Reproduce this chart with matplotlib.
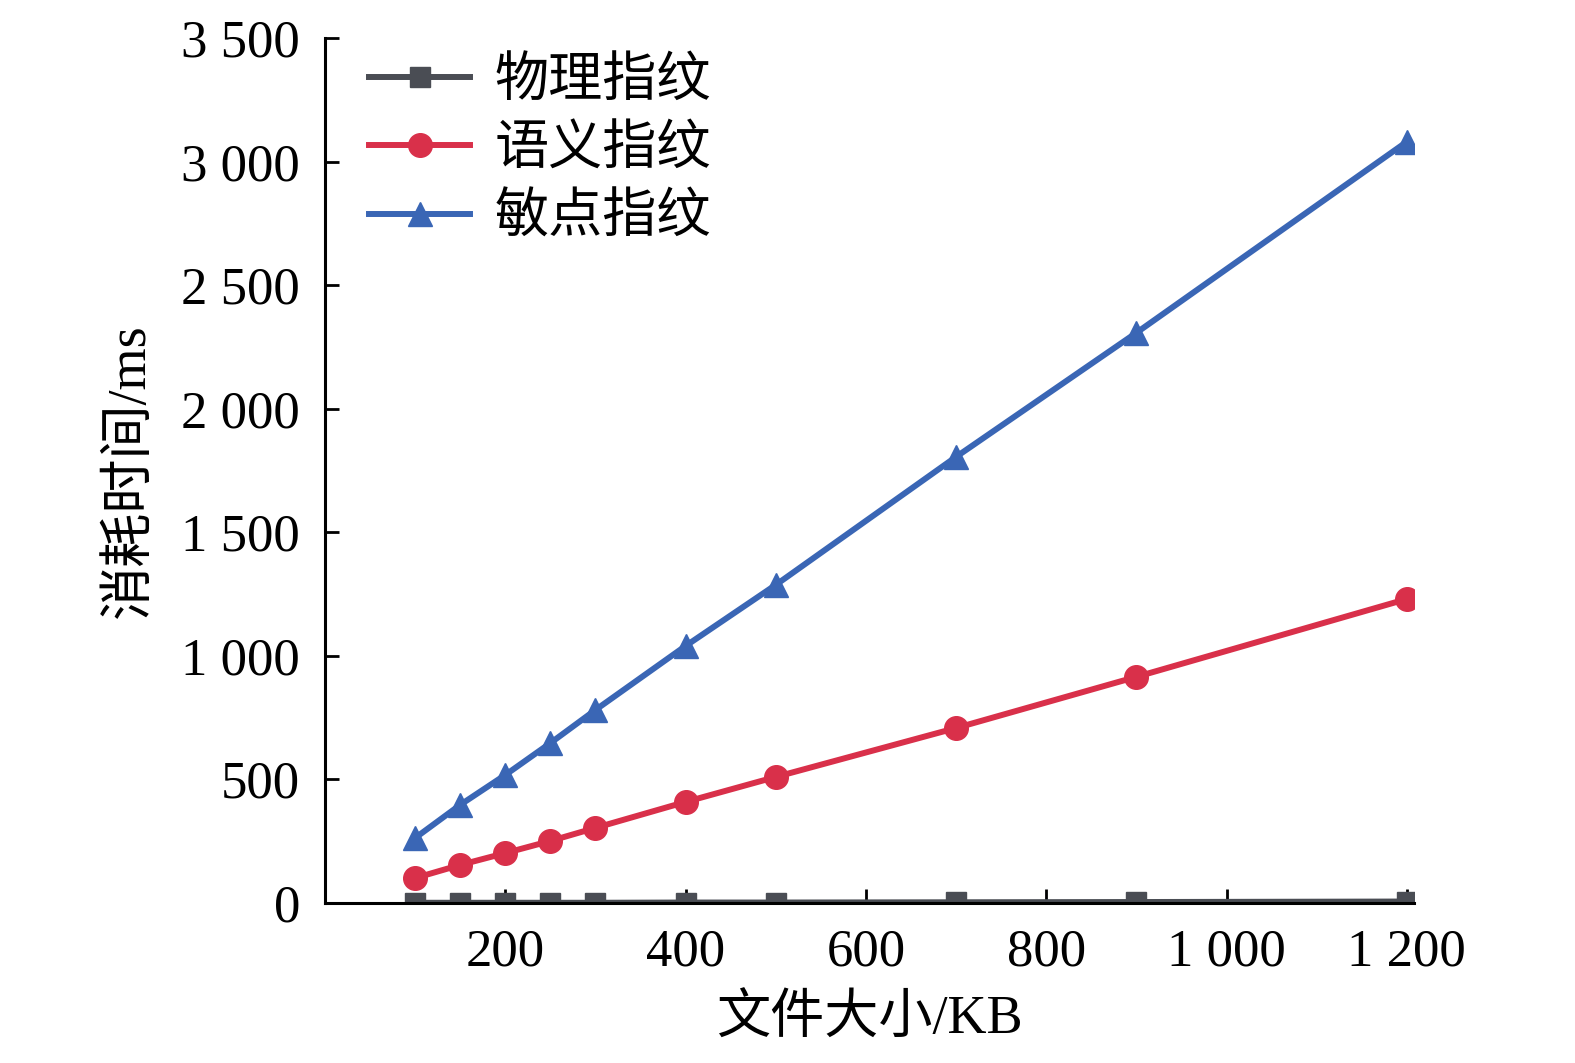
import numpy as np
import matplotlib
matplotlib.use("Agg")
import matplotlib.pyplot as plt
from matplotlib.ticker import FuncFormatter

plt.rcParams['font.family'] = ['Liberation Serif', 'Noto Sans CJK SC']

# data
file_kb = [100, 150, 200, 250, 300, 400, 500, 700, 900, 1200]
physical = [1, 1, 1, 1, 1, 2, 2, 3, 4, 6]
semantic = [101, 154, 202, 251, 304, 409, 510, 708, 915, 1230]
sensitive = [263, 397, 518, 647, 781, 1040, 1287, 1805, 2307, 3080]
names = ["物理指纹", "语义指纹", "敏点指纹"]
x_ticks = [200, 400, 600, 800, 1000, 1200]
y_ticks = [0, 500, 1000, 1500, 2000, 2500, 3000, 3500]


def thousands(v, pos):
    return "{:,}".format(int(v)).replace(",", " ")


fig = plt.figure(figsize=(15.75, 10.63), dpi=100)
ax = fig.add_axes([0.2063, 0.1505, 0.6915, 0.8138])

ax.plot(file_kb, physical, color="#4a4d54", lw=4.3, marker="s", ms=14, label=names[0])
ax.plot(file_kb, semantic, color="#d9304a", lw=4.3, marker="o", ms=17, label=names[1])
ax.plot(file_kb, sensitive, color="#3a66b5", lw=4.3, marker="^", ms=17, label=names[2])

ax.set_xlim(0, 1208)
ax.set_ylim(0, 3500)
ax.set_xticks(x_ticks)
ax.set_yticks(y_ticks)
ax.xaxis.set_major_formatter(FuncFormatter(thousands))
ax.yaxis.set_major_formatter(FuncFormatter(thousands))
ax.tick_params(direction="in", length=10, width=2, labelsize=38, pad=18)

for s in ["top", "right"]:
    ax.spines[s].set_visible(False)
for s in ["left", "bottom"]:
    ax.spines[s].set_linewidth(2.2)

ax.set_xlabel("文件大小/KB", fontsize=39, labelpad=14)
ax.set_ylabel("消耗时间/ms", fontsize=39, labelpad=18)

ax.legend(loc="upper left", bbox_to_anchor=(0.011, 1.015), frameon=False,
          fontsize=39, handlelength=1.85, handletextpad=0.46, labelspacing=0.33,
          borderaxespad=0.2)

fig.savefig("out.png", dpi=100)
